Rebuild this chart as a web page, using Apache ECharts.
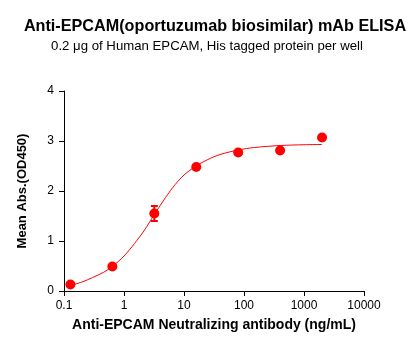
<!DOCTYPE html>
<html><head><meta charset="utf-8">
<script src="https://cdn.jsdelivr.net/npm/echarts@6/dist/echarts.min.js"></script>
<style>html,body{margin:0;padding:0;background:#fff}#c{width:420px;height:349px}</style>
</head><body><div id="c"></div>
<script>
// data
var concentrations = [0.128, 0.64, 3.2, 16, 80, 400, 2000];
var meanOD = [0.13, 0.49, 1.55, 2.48, 2.77, 2.81, 3.07];
var errOD = [0, 0, 0.15, 0, 0, 0, 0];
var fitConc = [0.128, 0.2, 0.3, 0.45, 0.64, 1, 1.5, 2.2, 3.2, 4.5, 6.5, 10, 16, 25, 40, 80, 150, 400, 1000, 2000];
var fitOD = [0.11, 0.18, 0.27, 0.37, 0.49, 0.70, 0.95, 1.22, 1.53, 1.80, 2.07, 2.32, 2.50, 2.63, 2.73, 2.82, 2.87, 2.91, 2.925, 2.93];
var xTicks = [0.1, 1, 10, 100, 1000, 10000];
var yTicks = [0, 1, 2, 3, 4];

var chart = echarts.init(document.getElementById('c'));
var pts = concentrations.map(function(c, i){ return [c, meanOD[i]]; });
var fit = fitConc.map(function(c, i){ return [c, fitOD[i]]; });
var errs = concentrations.map(function(c, i){ return [c, meanOD[i] - errOD[i], meanOD[i] + errOD[i]]; }).filter(function(d, i){ return errOD[i] > 0; });
var font = 'Arial, "Liberation Sans", sans-serif';
chart.setOption({
  animation: false,
  title: [{
    text: 'Anti-EPCAM(oportuzumab biosimilar) mAb ELISA',
    left: 210, top: 14, textAlign: 'center',
    textStyle: {fontFamily: font, fontSize: 16.2, fontWeight: 'bold', color: '#000'}
  }, {
    text: '0.2 \u03bcg of Human EPCAM, His tagged protein per well',
    left: 202, top: 35, textAlign: 'center',
    textStyle: {fontFamily: font, fontSize: 13.2, fontWeight: 'normal', color: '#000'}
  }],
  grid: {left: 64, right: 56, top: 91, bottom: 58},
  xAxis: {
    type: 'log', logBase: 10, min: xTicks[0], max: xTicks[xTicks.length - 1],
    name: 'Anti-EPCAM Neutralizing antibody (ng/mL)', nameLocation: 'middle', nameGap: 27,
    nameTextStyle: {fontFamily: font, fontSize: 14, fontWeight: 'bold', color: '#000'},
    axisLine: {lineStyle: {color: '#000', width: 1}},
    axisTick: {show: true, length: 5, lineStyle: {color: '#000'}},
    minorTick: {show: false},
    splitLine: {show: false},
    axisLabel: {fontFamily: font, fontSize: 12, color: '#000', margin: 9,
      formatter: function(v){ var r = xTicks.filter(function(t){ return Math.abs(t - v) / t < 1e-6; }); return r.length ? String(r[0]) : ''; }}
  },
  yAxis: {
    type: 'value', min: yTicks[0], max: yTicks[yTicks.length - 1], interval: 1,
    name: 'Mean Abs.(OD450)', nameLocation: 'middle', nameGap: 35,
    nameTextStyle: {fontFamily: font, fontSize: 13, fontWeight: 'bold', color: '#000'},
    axisLine: {show: true, lineStyle: {color: '#000', width: 1}},
    axisTick: {show: true, length: 5, lineStyle: {color: '#000'}},
    splitLine: {show: false},
    axisLabel: {fontFamily: font, fontSize: 12, color: '#000', margin: 10}
  },
  series: [{
    type: 'line', data: fit, smooth: 0.3, showSymbol: false, symbol: 'none',
    lineStyle: {color: '#ff0000', width: 1}, z: 2
  }, {
    type: 'scatter', data: pts, symbol: 'circle', symbolSize: 10,
    itemStyle: {color: '#ff0000', opacity: 1}, z: 3
  }, {
    type: 'custom', data: errs, z: 4,
    renderItem: function(params, api){
      var top = api.coord([api.value(0), api.value(2)]);
      var bot = api.coord([api.value(0), api.value(1)]);
      var w = 3.5;
      var st = {stroke: '#ff0000', lineWidth: 2};
      return {type: 'group', children: [
        {type: 'line', shape: {x1: top[0], y1: top[1], x2: bot[0], y2: bot[1]}, style: st},
        {type: 'line', shape: {x1: top[0] - w, y1: top[1], x2: top[0] + w, y2: top[1]}, style: st},
        {type: 'line', shape: {x1: bot[0] - w, y1: bot[1], x2: bot[0] + w, y2: bot[1]}, style: st}
      ]};
    }
  }]
});
</script></body></html>
